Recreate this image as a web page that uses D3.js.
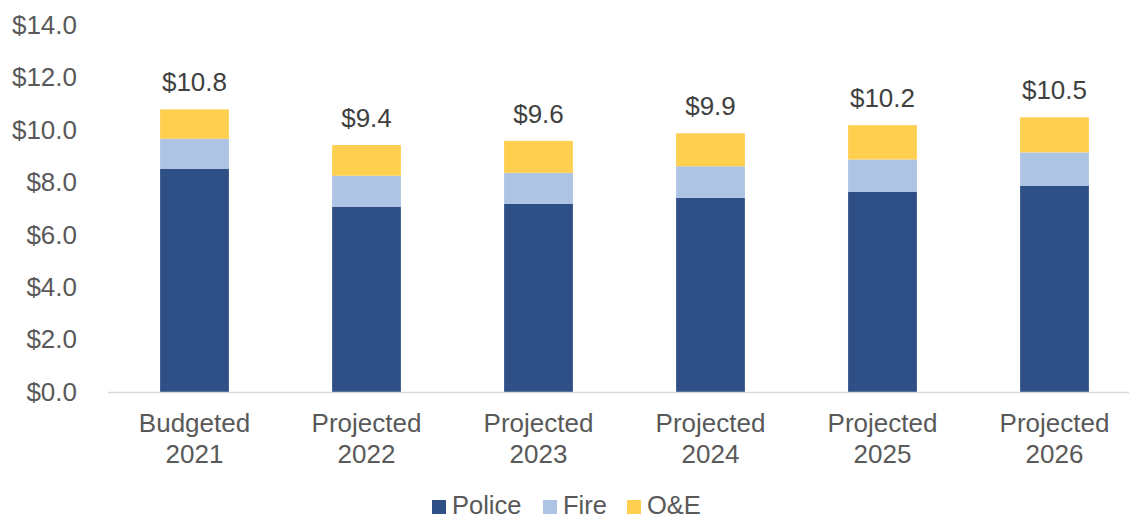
<!DOCTYPE html>
<html>
<head>
<meta charset="utf-8">
<script src="https://cdn.jsdelivr.net/npm/d3@7"></script>
<style>
  body { margin: 0; background: #fff; }
  svg { display: block; font-family: "Liberation Sans", Arial, sans-serif; }
</style>
</head>
<body>
<svg id="grafico"></svg>
<script>
// dados (milhões de $)
const categorias = [["Budgeted", "2021"], ["Projected", "2022"], ["Projected", "2023"],
                    ["Projected", "2024"], ["Projected", "2025"], ["Projected", "2026"]];
const series = ["Police", "Fire", "O&E"];
const police = [8.52, 7.07, 7.18, 7.41, 7.63, 7.86];
const fire   = [1.14, 1.18, 1.18, 1.20, 1.24, 1.28];
const oe     = [1.12, 1.17, 1.22, 1.26, 1.31, 1.34];
const ticksY = [0, 2, 4, 6, 8, 10, 12, 14];
const cores = ["#2F5086", "#ADC4E4", "#FFCF50"];

const width = 1129, height = 519;
const fonte = 26;
const svg = d3.select("#grafico").attr("width", width).attr("height", height);

// tabela para o d3.stack
const tabela = categorias.map((c, i) => ({ idx: i, "Police": police[i], "Fire": fire[i], "O&E": oe[i] }));
const pilhas = d3.stack().keys(series)(tabela);

const x = d3.scaleBand()
  .domain(d3.range(categorias.length))
  .range([108.5, 1140.5])
  .paddingInner(0.6)
  .paddingOuter(0.3);

const y = d3.scaleLinear().domain([0, 14]).range([392, 25]);

// eixo y (só rótulos)
const eixoY = svg.append("g")
  .attr("transform", "translate(77,0)")
  .call(d3.axisLeft(y).tickValues(ticksY).tickSize(0).tickPadding(0).tickFormat(d => "$" + d3.format(".1f")(d)));
eixoY.select(".domain").remove();
eixoY.selectAll("text").attr("font-size", fonte).attr("fill", "#595959").attr("font-family", "Liberation Sans, Arial, sans-serif");

// barras empilhadas
svg.append("g").selectAll("g")
  .data(pilhas)
  .join("g")
  .attr("fill", (d, i) => cores[i])
  .selectAll("rect")
  .data(d => d)
  .join("rect")
  .attr("x", d => x(d.data.idx))
  .attr("y", d => y(d[1]))
  .attr("width", x.bandwidth())
  .attr("height", d => y(d[0]) - y(d[1]));

// linha do eixo x
svg.append("line")
  .attr("x1", 108).attr("x2", width)
  .attr("y1", y(0) + 0.5).attr("y2", y(0) + 0.5)
  .attr("stroke", "#D9D9D9").attr("stroke-width", 1.5);

// totais acima das barras
const totais = tabela.map(d => police[d.idx] + fire[d.idx] + oe[d.idx]);
svg.append("g").selectAll("text")
  .data(totais)
  .join("text")
  .attr("x", (d, i) => x(i) + x.bandwidth() / 2)
  .attr("y", d => y(d) - 18)
  .attr("text-anchor", "middle")
  .attr("font-size", fonte)
  .attr("fill", "#404040")
  .text(d => "$" + d3.format(".1f")(d));

// rótulos das categorias
const rotulos = svg.append("g").selectAll("text")
  .data(categorias)
  .join("text")
  .attr("x", (d, i) => x(i) + x.bandwidth() / 2)
  .attr("text-anchor", "middle")
  .attr("font-size", fonte)
  .attr("fill", "#595959");
rotulos.append("tspan").attr("x", (d, i) => x(i) + x.bandwidth() / 2).attr("y", 432).text(d => d[0]);
rotulos.append("tspan").attr("x", (d, i) => x(i) + x.bandwidth() / 2).attr("y", 463).text(d => d[1]);

// legenda
const legX = [432, 543, 627];
const leg = svg.append("g").selectAll("g")
  .data(series)
  .join("g")
  .attr("transform", (d, i) => `translate(${legX[i]},0)`);
leg.append("rect").attr("x", 0).attr("y", 500).attr("width", 14).attr("height", 14).attr("fill", (d, i) => cores[i]);
leg.append("text").attr("x", 20).attr("y", 513.5).attr("font-size", 25.5).attr("fill", "#595959").text(d => d);
</script>
</body>
</html>
